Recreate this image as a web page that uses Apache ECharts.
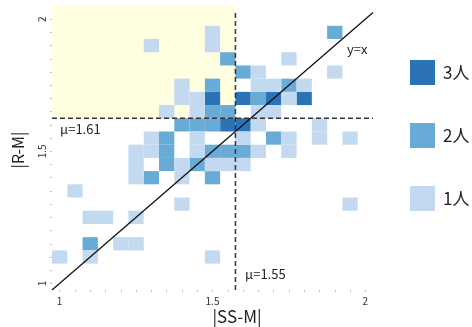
<!DOCTYPE html>
<html>
<head>
<meta charset="utf-8">
<script src="https://cdn.jsdelivr.net/npm/echarts@6/dist/echarts.min.js"></script>
<style>html,body{margin:0;padding:0;background:#fff}#c{width:472px;height:327px}</style>
</head>
<body>
<div id="c"></div>
<script>
// cells: [|SS-M| value, |R-M| value] for each count level
const cells3 = [[1.50,1.70],[1.60,1.70],[1.70,1.70],[1.80,1.70],[1.55,1.60],[1.60,1.60]];
const cells2 = [[1.90,1.95],[1.55,1.85],[1.60,1.80],[1.50,1.75],[1.75,1.75],[1.65,1.70],
  [1.50,1.65],[1.55,1.65],[1.40,1.60],[1.45,1.60],[1.50,1.60],[1.35,1.55],[1.70,1.55],
  [1.35,1.50],[1.50,1.50],[1.55,1.50],[1.60,1.50],[1.35,1.45],[1.45,1.45],[1.30,1.40],
  [1.50,1.40],[1.10,1.15]];
const cells1 = [[1.50,1.95],[1.30,1.90],[1.50,1.90],[1.75,1.85],[1.65,1.80],[1.90,1.80],
  [1.40,1.75],[1.65,1.75],[1.70,1.75],[1.80,1.75],[1.40,1.70],[1.45,1.70],[1.75,1.70],
  [1.35,1.65],[1.45,1.65],[1.65,1.65],[1.70,1.65],[1.65,1.60],[1.85,1.60],
  [1.30,1.55],[1.45,1.55],[1.60,1.55],[1.75,1.55],[1.85,1.55],[1.95,1.55],
  [1.25,1.50],[1.30,1.50],[1.45,1.50],[1.65,1.50],[1.75,1.50],
  [1.25,1.45],[1.40,1.45],[1.50,1.45],[1.55,1.45],[1.60,1.45],
  [1.25,1.40],[1.40,1.40],[1.05,1.35],[1.40,1.30],[1.95,1.30],
  [1.10,1.25],[1.15,1.25],[1.25,1.25],[1.20,1.15],[1.25,1.15],
  [1.00,1.10],[1.10,1.10],[1.50,1.10]];
const levelNames = ['3人','2人','1人'];
const levelColors = ['#2b73b6','#68abd6','#c2d9ef'];
const tickValues = [1,1.05,1.1,1.15,1.2,1.25,1.3,1.35,1.4,1.45,1.5,1.55,1.6,1.65,1.7,1.75,1.8,1.85,1.9,1.95,2];
const tickLabels = [1,1.5,2];
const meanX = 1.575, meanXLabel = 'μ=1.55';
const meanY = 1.625, meanYLabel = 'μ=1.61';
const half = 0.025;
const lo = 1 - half, hi = 2 + half, yTop = 2.05;

function cellSeries(name, data, color) {
  return {
    type: 'custom', name: name, data: data, itemStyle: {color: color},
    z: 3,
    renderItem: function (params, api) {
      const x = api.value(0), y = api.value(1);
      const p = api.coord([x - half, y + half]);
      const s = api.size([2 * half, 2 * half]);
      return {type: 'rect', shape: {x: p[0], y: p[1], width: s[0], height: s[1]},
        style: {fill: color}};
    }
  };
}

const chart = echarts.init(document.getElementById('c'));
const font = '"Noto Sans CJK JP", "Noto Sans", sans-serif';
chart.setOption({
  animation: false,
  grid: {left: 52, right: 99, top: 6, bottom: 37},
  xAxis: {
    type: 'value', min: lo, max: hi,
    axisLine: {show: false}, splitLine: {show: false},
    axisTick: {show: true, customValues: tickValues, length: 2, lineStyle: {color: '#bbb', width: 1}},
    axisLabel: {customValues: tickLabels, fontSize: 10, color: '#333', margin: 6, fontFamily: font}
  },
  yAxis: {
    type: 'value', min: lo, max: yTop,
    axisLine: {show: false}, splitLine: {show: false},
    axisTick: {show: true, customValues: tickValues, length: 2, lineStyle: {color: '#bbb', width: 1}},
    axisLabel: {customValues: tickLabels, fontSize: 10, color: '#333', rotate: 90, margin: 5, fontFamily: font}
  },
  legend: {
    orient: 'vertical', left: 405, top: 55, itemWidth: 25, itemHeight: 25, itemGap: 38,
    icon: 'rect', selectedMode: false, data: levelNames,
    textStyle: {fontSize: 17, color: '#222', fontFamily: font, padding: [0, 0, 0, 3]}
  },
  series: [
    cellSeries(levelNames[0], cells3, levelColors[0]),
    cellSeries(levelNames[1], cells2, levelColors[1]),
    cellSeries(levelNames[2], cells1, levelColors[2]),
    {
      type: 'line', data: [], silent: true, z: 1,
      markArea: {silent: true, itemStyle: {color: '#fffee0'},
        data: [[{coord: [lo, meanY]}, {coord: [meanX, yTop]}]]}
    },
    {
      type: 'line', data: [[lo, lo], [hi, hi]], symbol: 'none', silent: true, z: 5,
      lineStyle: {color: '#111', width: 1.3}
    },
    {
      type: 'line', data: [[meanX, lo], [meanX, hi]], symbol: 'none', silent: true, z: 5,
      lineStyle: {color: '#333', width: 1.5, type: [5, 3]}
    },
    {
      type: 'line', data: [[lo, meanY], [hi, meanY]], symbol: 'none', silent: true, z: 5,
      lineStyle: {color: '#333', width: 1.5, type: [5, 3]}
    }
  ],
  graphic: [
    {type: 'text', left: 60, top: 123, style: {text: meanYLabel, fontSize: 13, fill: '#222', fontFamily: font}},
    {type: 'text', left: 245, top: 268, style: {text: meanXLabel, fontSize: 13, fill: '#222', fontFamily: font}},
    {type: 'text', left: 347, top: 43, style: {text: 'y=x', fontSize: 13, fill: '#222', fontFamily: font}},
    {type: 'text', x: 237, y: 317, style: {text: '|SS-M|', fontSize: 17, fill: '#222', fontFamily: font, align: 'center', verticalAlign: 'middle'}},
    {type: 'text', x: 18, y: 150, rotation: Math.PI / 2, style: {text: '|R-M|', fontSize: 16, fill: '#222', fontFamily: font, align: 'center', verticalAlign: 'middle'}}
  ]
});
</script>
</body>
</html>
